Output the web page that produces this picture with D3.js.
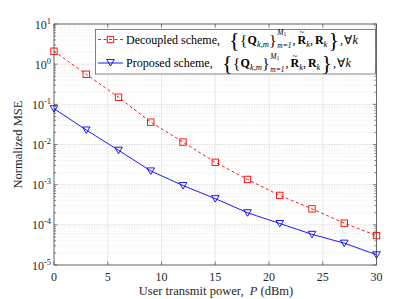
<!DOCTYPE html>
<html>
<head>
<meta charset="utf-8">
<script src="https://cdn.jsdelivr.net/npm/d3@7"></script>
<style>
  body { margin: 0; background: #fff; }
  svg { font-family: "Liberation Serif", "Times New Roman", serif; }
</style>
</head>
<body>
<svg id="chart" width="415" height="299"></svg>
<script>
// transmit power points (dBm)
const powerDbm = [0, 3, 6, 9, 12, 15, 18, 21, 24, 27, 30];
// normalized MSE
const mseDecoupled = [2.1, 0.56, 0.15, 0.036, 0.0115, 0.0036, 0.00135, 0.00054, 0.00025, 0.00011, 0.000054];
const mseProposed = [0.078, 0.023, 0.0072, 0.0022, 0.00095, 0.00045, 0.0002, 0.000108, 0.000058, 0.000035, 0.000018];
const xTicks = [0, 5, 10, 15, 20, 25, 30];
const yDecades = [-5, -4, -3, -2, -1, 0, 1];

const svg = d3.select('#chart');
const plotL = 54, plotR = 376.5, plotT = 24, plotB = 265;

const x = d3.scaleLinear().domain([0, 30]).range([plotL, plotR]);
const y = d3.scaleLog().domain([1e-5, 10]).range([plotB, plotT]);

// grid
const grid = svg.append('g');
const minorVals = [];
yDecades.slice(0, -1).forEach(e => {
  for (let m = 2; m <= 9; m++) minorVals.push(m * Math.pow(10, e));
});
grid.selectAll('line.minor').data(minorVals).join('line')
  .attr('x1', plotL).attr('x2', plotR)
  .attr('y1', d => y(d)).attr('y2', d => y(d))
  .attr('stroke', '#d6d6d6').attr('stroke-width', 0.6)
  .attr('stroke-dasharray', '1,1.5');
grid.selectAll('line.hmajor').data(yDecades.map(e => Math.pow(10, e))).join('line')
  .attr('x1', plotL).attr('x2', plotR)
  .attr('y1', d => y(d)).attr('y2', d => y(d))
  .attr('stroke', '#e3e3e3').attr('stroke-width', 0.8);
grid.selectAll('line.vmajor').data(xTicks).join('line')
  .attr('x1', d => x(d)).attr('x2', d => x(d))
  .attr('y1', plotT).attr('y2', plotB)
  .attr('stroke', '#e3e3e3').attr('stroke-width', 0.8);

// ticks (inward, all sides)
const axisColor = '#4d4d4d';
const ticks = svg.append('g').attr('stroke', axisColor).attr('stroke-width', 0.7);
xTicks.forEach(t => {
  ticks.append('line').attr('x1', x(t)).attr('x2', x(t)).attr('y1', plotB).attr('y2', plotB - 3.5);
  ticks.append('line').attr('x1', x(t)).attr('x2', x(t)).attr('y1', plotT).attr('y2', plotT + 3.5);
});
yDecades.forEach(e => {
  const v = y(Math.pow(10, e));
  ticks.append('line').attr('x1', plotL).attr('x2', plotL + 3.5).attr('y1', v).attr('y2', v);
  ticks.append('line').attr('x1', plotR).attr('x2', plotR - 3.5).attr('y1', v).attr('y2', v);
});
minorVals.forEach(d => {
  const v = y(d);
  ticks.append('line').attr('x1', plotL).attr('x2', plotL + 2).attr('y1', v).attr('y2', v);
  ticks.append('line').attr('x1', plotR).attr('x2', plotR - 2).attr('y1', v).attr('y2', v);
});

// box
svg.append('rect')
  .attr('x', plotL).attr('y', plotT)
  .attr('width', plotR - plotL).attr('height', plotB - plotT)
  .attr('fill', 'none').attr('stroke', axisColor).attr('stroke-width', 0.8);

// tick labels
svg.append('g').selectAll('text').data(xTicks).join('text')
  .attr('x', d => x(d)).attr('y', plotB + 16)
  .attr('text-anchor', 'middle').attr('font-size', 12).attr('fill', '#262626')
  .text(d => d);

const yl = svg.append('g').selectAll('text').data(yDecades).join('text')
  .attr('x', plotL - 3).attr('y', d => y(Math.pow(10, d)) + 4.5)
  .attr('text-anchor', 'end').attr('font-size', 12).attr('fill', '#262626');
yl.append('tspan').text('10');
yl.append('tspan').attr('font-size', 8.5).attr('dy', -5).text(d => d);

// axis titles
svg.append('text')
  .attr('x', 216).attr('y', 295)
  .attr('text-anchor', 'middle').attr('font-size', 12.5).attr('fill', '#262626')
  .call(t => {
    t.append('tspan').text('User transmit power,\u00a0\u00a0');
    t.append('tspan').attr('font-style', 'italic').text('P');
    t.append('tspan').text('\u00a0(dBm)');
  });
svg.append('text')
  .attr('transform', `translate(22,${(plotT + plotB) / 2}) rotate(-90)`)
  .attr('text-anchor', 'middle').attr('font-size', 12.5).attr('fill', '#262626')
  .text('Normalized MSE');

// series
const series = [
  { vals: mseDecoupled, color: '#ff0000', dash: '3,2.5', marker: 'square' },
  { vals: mseProposed, color: '#0000ff', dash: null, marker: 'tri' }
];
const line = d3.line().x(d => x(d[0])).y(d => y(d[1]));

function drawMarker(g, type, color, cx, cy) {
  if (type === 'square') {
    g.append('rect').attr('x', cx - 3.2).attr('y', cy - 3.2).attr('width', 6.4).attr('height', 6.4)
      .attr('fill', 'none').attr('stroke', color).attr('stroke-width', 0.9);
  } else {
    g.append('path').attr('d', `M${cx - 3.8},${cy - 3} L${cx + 3.8},${cy - 3} L${cx},${cy + 3.5} Z`)
      .attr('fill', 'none').attr('stroke', color).attr('stroke-width', 0.9);
  }
}

series.forEach(s => {
  const pts = powerDbm.map((p, i) => [p, s.vals[i]]);
  const g = svg.append('g');
  g.append('path').attr('d', line(pts))
    .attr('fill', 'none').attr('stroke', s.color).attr('stroke-width', 0.9)
    .attr('stroke-dasharray', s.dash);
  pts.forEach(p => drawMarker(g, s.marker, s.color, x(p[0]), y(p[1])));
});

// legend
const lg = svg.append('g');
lg.append('rect').attr('x', 95.5).attr('y', 29.5).attr('width', 280).attr('height', 44.5)
  .attr('fill', '#fff').attr('stroke', axisColor).attr('stroke-width', 0.7);

const legendRows = [
  { label: 'Decoupled scheme,', s: series[0], cy: 39.5, mathX: 229 },
  { label: 'Proposed scheme,', s: series[1], cy: 63, mathX: 222 }
];

// append text pieces one after another, measuring widths
function mathRow(g, x0, cy, pieces) {
  let cx = x0;
  pieces.forEach(p => {
    if (p.stack) {
      let w = 0;
      p.stack.forEach(q => {
        const t = g.append('text').attr('x', cx).attr('y', cy + q.dy).attr('font-size', q.size)
          .attr('font-style', q.italic ? 'italic' : null).text(q.t);
        if (q.sub) t.append('tspan').attr('font-size', q.size * 0.75).attr('dy', 1.2).attr('font-style', 'normal').text(q.sub);
        w = Math.max(w, t.node().getComputedTextLength());
      });
      cx += w + (p.gap || 0);
      return;
    }
    const t = g.append('text').attr('x', cx).attr('y', cy + (p.dy || 0))
      .attr('font-size', p.size || 11)
      .attr('font-weight', p.bold ? 'bold' : null)
      .attr('font-style', p.italic ? 'italic' : null)
      .text(p.t);
    const w = t.node().getComputedTextLength();
    if (p.tilde) {
      g.append('text').attr('x', cx + w / 2).attr('y', cy - 4.5).attr('text-anchor', 'middle')
        .attr('font-size', 9).text('~');
    }
    cx += w + (p.gap || 0);
  });
  return cx;
}

legendRows.forEach(r => {
  lg.append('path').attr('d', `M98,${r.cy} L123,${r.cy}`)
    .attr('stroke', r.s.color).attr('stroke-width', 0.9).attr('stroke-dasharray', r.s.dash);
  drawMarker(lg, r.s.marker, r.s.color, 110.5, r.s.marker === 'tri' ? r.cy - 0.5 : r.cy);
  const tg = lg.append('g').attr('fill', '#000');
  tg.append('text').attr('x', 126).attr('y', r.cy + 4).attr('font-size', 12).text(r.label);
  mathRow(tg, r.mathX, r.cy, [
    { t: '{', size: 22, dy: 7, gap: 0.5 },
    { t: '{', size: 15, dy: 5, gap: 0.3 },
    { t: 'Q', size: 12, bold: true, dy: 4 },
    { t: 'k,m', size: 8.5, italic: true, dy: 7, gap: 0.3 },
    { t: '}', size: 15, dy: 5, gap: 0.8 },
    { stack: [{ t: 'M', size: 7.5, italic: true, dy: -4.5, sub: '1' }, { t: 'm=1', size: 7.5, italic: true, dy: 8.5 }], gap: 1 },
    { t: ',', size: 12, dy: 4, gap: 2 },
    { t: 'R', size: 12, bold: true, dy: 4, tilde: true },
    { t: 'k', size: 8.5, italic: true, dy: 7 },
    { t: ',', size: 12, dy: 4, gap: 2 },
    { t: 'R', size: 12, bold: true, dy: 4 },
    { t: 'k', size: 8.5, italic: true, dy: 7, gap: 1 },
    { t: '}', size: 22, dy: 7, gap: 1 },
    { t: ',', size: 12, dy: 4, gap: 1.5 },
    { t: '\u2200', size: 12, dy: 4 },
    { t: 'k', size: 12, italic: true, dy: 4 }
  ]);
});
</script>
</body>
</html>
